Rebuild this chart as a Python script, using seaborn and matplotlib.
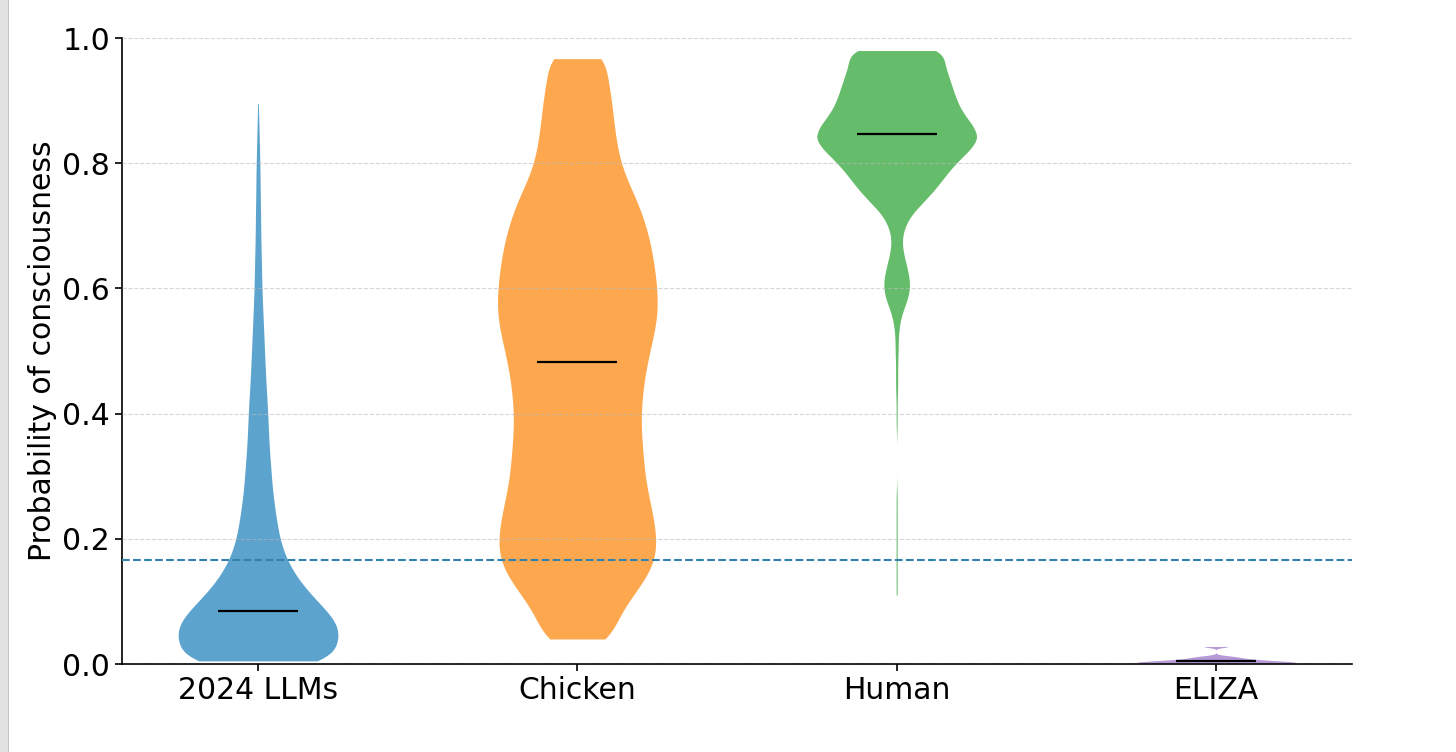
import numpy as np
import pandas as pd
import matplotlib
matplotlib.use("Agg")
import matplotlib.pyplot as plt
import seaborn as sns
from matplotlib.patches import Rectangle

# categories and colours
groups = ["2024 LLMs", "Chicken", "Human", "ELIZA"]
colors = ["#5ca3ce", "#fda84e", "#65bc6a", "#b69ad8"]

# answers: probability levels and how many answers sit at each
llm_levels = [0.005, 0.025, 0.045, 0.065, 0.085, 0.105, 0.125, 0.145, 0.165, 0.185,
              0.205, 0.225, 0.245, 0.265, 0.285, 0.305, 0.325, 0.345, 0.365, 0.385,
              0.405, 0.425, 0.445, 0.465, 0.485, 0.505, 0.525, 0.545, 0.565, 0.585,
              0.605, 0.625, 0.645, 0.665, 0.685, 0.705, 0.725, 0.745, 0.765, 0.785,
              0.805, 0.825, 0.845, 0.865, 0.895]
llm_counts = [175, 135, 160, 152, 130, 106, 84, 68, 54, 46,
              39, 36, 32, 29, 26, 25, 23, 21, 20, 19,
              18, 17, 15, 14, 13, 12, 11, 10, 9, 8,
              7, 7, 6, 6, 5, 5, 5, 4, 4, 4,
              3, 3, 2, 2, 1]

chicken_levels = [0.04, 0.06, 0.08, 0.10, 0.12, 0.14, 0.16, 0.18, 0.20, 0.22,
                  0.24, 0.26, 0.28, 0.30, 0.32, 0.34, 0.36, 0.38, 0.40, 0.42,
                  0.44, 0.46, 0.48, 0.50, 0.52, 0.54, 0.56, 0.58, 0.60, 0.62,
                  0.64, 0.66, 0.68, 0.70, 0.72, 0.74, 0.76, 0.78, 0.80, 0.82,
                  0.84, 0.86, 0.88, 0.90, 0.92, 0.94, 0.967]
chicken_counts = [47, 33, 42, 51, 60, 70, 77, 79, 79, 77,
                  75, 72, 69, 67, 66, 65, 64, 63, 63, 64,
                  65, 67, 69, 72, 75, 78, 80, 80, 79, 78,
                  76, 74, 72, 68, 64, 60, 53, 47, 43, 40,
                  38, 37, 35, 34, 33, 30, 50]

human_levels = [0.11, 0.13, 0.15, 0.17, 0.19, 0.21, 0.23, 0.25, 0.27,
                0.38, 0.40, 0.42, 0.44, 0.46, 0.48, 0.50, 0.52, 0.54, 0.56,
                0.58, 0.60, 0.62, 0.64, 0.66, 0.68, 0.70, 0.72, 0.74, 0.76,
                0.78, 0.80, 0.82, 0.84, 0.86, 0.88, 0.90, 0.92, 0.94, 0.96, 0.98]
human_counts = [1, 1, 1, 1, 1, 1, 1, 1, 1,
                1, 1, 1, 2, 2, 2, 3, 3, 5, 10,
                20, 26, 24, 18, 12, 10, 16, 30, 54, 76,
                94, 114, 140, 160, 148, 128, 116, 108, 100, 92, 92]

eliza_levels = [0.001, 0.003, 0.005, 0.007, 0.009, 0.011, 0.013, 0.028]
eliza_counts = [8, 6, 5, 3, 2, 2, 1, 2]

medians = [0.085, 0.483, 0.847, 0.005]
prior = 1 / 6

levels = [llm_levels, chicken_levels, human_levels, eliza_levels]
counts = [llm_counts, chicken_counts, human_counts, eliza_counts]

# long table for seaborn
frames = []
for name, lv, ct in zip(groups, levels, counts):
    vals = np.repeat(lv, ct)
    frames.append(pd.DataFrame({"system": name, "p": vals}))
df = pd.concat(frames, ignore_index=True)

sns.set_style("ticks")
plt.rcParams["font.family"] = ["DejaVu Sans"]
plt.rcParams["text.color"] = "black"
plt.rcParams["axes.labelcolor"] = "black"

fig = plt.figure(figsize=(14.56, 7.52), dpi=100)
ax = fig.add_axes([122 / 1456, 88 / 752, 1230 / 1456, 626 / 752])

sns.violinplot(data=df, x="system", y="p", hue="system", order=groups,
               hue_order=groups, palette=colors, saturation=1, legend=False,
               cut=0, inner=None, density_norm="width", width=0.5,
               bw_adjust=0.5, gridsize=300, linewidth=0, ax=ax)

# median bars
pos = np.arange(len(groups))
ax.hlines(medians, pos - 0.125, pos + 0.125, color="black", linewidth=1.6, zorder=3)

# prior line
ax.axhline(prior, color="#3282b0", linestyle="--", linewidth=1.5, zorder=3)

ax.set_xlim(-0.426, 3.426)
ax.set_ylim(0, 1.0)
ax.set_yticks([0.0, 0.2, 0.4, 0.6, 0.8, 1.0])
ax.set_xlabel("")
ax.set_ylabel("Probability of consciousness", fontsize=21.5, color="black")
ax.tick_params(axis="both", labelsize=21.5, length=5, width=1.2, colors="black")
ax.yaxis.grid(True, linestyle="--", color="#bbbbbb", alpha=0.6, linewidth=0.8)
ax.set_axisbelow(False)
for s in ["left", "bottom"]:
    ax.spines[s].set_linewidth(1.2)
    ax.spines[s].set_color("black")
sns.despine(ax=ax)

# grey strip on the left edge
fig.patches.append(Rectangle((0, 0), 8 / 1456, 1, transform=fig.transFigure,
                             facecolor="#e2e2e2", edgecolor="none"))
fig.patches.append(Rectangle((8 / 1456, 0), 1.2 / 1456, 1, transform=fig.transFigure,
                             facecolor="#c4c4c4", edgecolor="none"))

fig.savefig("out.png", dpi=100)
